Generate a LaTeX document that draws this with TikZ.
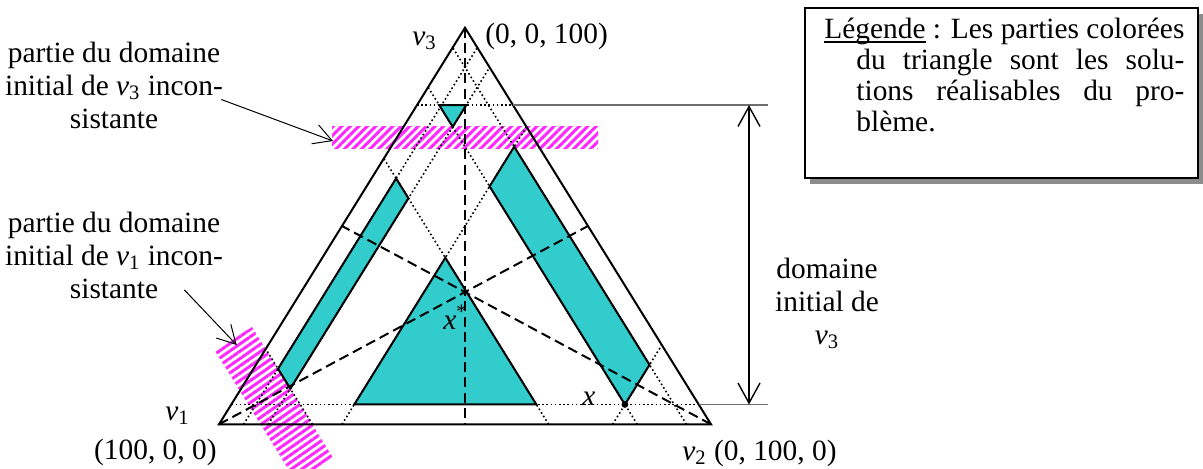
\documentclass[tikz,border=0pt]{standalone}
\usepackage{fontspec}
\setmainfont{Liberation Serif}
\usetikzlibrary{arrows.meta,patterns.meta,shadows}
\definecolor{solcyan}{RGB}{51,204,204}
\definecolor{hatchpink}{RGB}{255,40,255}
\definecolor{guidegray}{RGB}{110,110,110}
\definecolor{shadowgray}{RGB}{140,140,140}
\newcommand{\legul}[1]{\setbox0\hbox{#1}\rlap{\rule[-1.9pt]{\wd0}{0.6pt}}#1}
\tikzset{
  lbl/.style={font=\fontsize{14.7}{16.3}\selectfont,inner sep=0pt},
  tri/.style={line width=1pt,line join=miter},
  sol/.style={fill=solcyan,draw=black,line width=1pt,line join=miter},
  dom/.style={line width=0.8pt,dash pattern=on 0.8pt off 1.3pt},
  med/.style={line width=1pt,dash pattern=on 5pt off 2.6pt},
  hatch/.style={pattern={Lines[angle=#1,distance=3pt,line width=1.5pt]},
                pattern color=hatchpink},
  hatch/.default=45,
  guide/.style={draw=guidegray,line width=0.6pt},
  lblarr/.style={-{Straight Barb[length=9pt,width=10pt]},line width=0.5pt},
  dimarr/.style={{Straight Barb[length=10pt,width=11pt]}-{Straight Barb[length=10pt,width=11pt]},
                 line width=0.7pt},
  legendbox/.style={draw,line width=1pt,fill=white,
                    minimum width=196.5pt,minimum height=85pt,
                    drop shadow={shadow xshift=2.5pt,shadow yshift=-3pt,
                                 fill=shadowgray,opacity=1}},
}

\begin{document}
\begin{tikzpicture}[x=0.5pt,y=-0.5pt]
  \useasboundingbox (0,0) rectangle (1203,468);

  %% simplex corners (weights below are fractions of 100)
  \coordinate (v1) at (219,424.3);
  \coordinate (v2) at (711,424.3);
  \coordinate (v3) at (465,27.7);

  %% inconsistent parts (hatched)
  \fill[hatch] (332,126) rectangle (598,148);
  \begin{scope}
    \clip (0,0) rectangle (1203,468);
    \fill[hatch=35] (252,327) -- (214.6,350.2) -- (295.8,481.2) -- (333.2,458) -- cycle;
  \end{scope}

  %% domain bounds
  \foreach \c/\r in {.05/.95,.15/.85,.33/.67,.81/.19}
    \draw[dom] (barycentric cs:v1=\c,v2=\r) -- (barycentric cs:v1=\c,v3=\r);
  \foreach \c/\r in {.05/.95,.10/.90,.25/.75,.80/.20}
    \draw[dom] (barycentric cs:v2=\c,v1=\r) -- (barycentric cs:v2=\c,v3=\r);
  \foreach \c/\r in {.05/.95,.805/.195}
    \draw[dom] (barycentric cs:v3=\c,v1=\r) -- (barycentric cs:v3=\c,v2=\r);

  %% feasible solutions
  \draw[sol] (barycentric cs:v1=.15,v2=.045,v3=.805) -- (barycentric cs:v1=.095,v2=.10,v3=.805)
          -- (barycentric cs:v1=.15,v2=.10,v3=.75) -- cycle;
  \draw[sol] (barycentric cs:v1=.33,v2=.05,v3=.62) -- (barycentric cs:v1=.33,v2=.10,v3=.57)
          -- (barycentric cs:v1=.81,v2=.10,v3=.09) -- (barycentric cs:v1=.81,v2=.05,v3=.14) -- cycle;
  \draw[sol] (barycentric cs:v1=.05,v2=.25,v3=.70) -- (barycentric cs:v1=.15,v2=.25,v3=.60)
          -- (barycentric cs:v1=.15,v2=.80,v3=.05) -- (barycentric cs:v1=.05,v2=.80,v3=.15) -- cycle;
  \draw[sol] (barycentric cs:v1=.70,v2=.25,v3=.05) -- (barycentric cs:v1=.33,v2=.62,v3=.05)
          -- (barycentric cs:v1=.33,v2=.25,v3=.42) -- cycle;

  %% medians
  \draw[med] (v1) -- (barycentric cs:v2=.5,v3=.5);
  \draw[med] (v2) -- (barycentric cs:v1=.5,v3=.5);
  \draw[med] (v3) -- (barycentric cs:v1=.5,v2=.5);

  \draw[tri] (v1) -- (v2) -- (v3) -- cycle;

  %% initial domain of v3
  \coordinate (hiR) at (barycentric cs:v2=.195,v3=.805);
  \coordinate (loR) at (barycentric cs:v2=.95,v3=.05);
  \coordinate (dimx) at (749,0);
  \coordinate (guidex) at (768,0);
  \draw[guide] (hiR) -- (hiR -| guidex);
  \draw[guide] (loR) -- (loR -| guidex);
  \draw[dimarr] (hiR -| dimx) -- (loR -| dimx);

  \coordinate (xpt) at (barycentric cs:v1=.15,v2=.80,v3=.05);
  \fill (xpt) circle (1.7pt);

  %% labels
  \node[lbl,anchor=base east] (v3lbl) at (437,45) {\textit{v}\textsubscript{3}};
  \node[lbl,anchor=base west] (v3co) at (485,43) {(0, 0, 100)};
  \node[lbl,anchor=base east] (v1lbl) at (190,420) {\textit{v}\textsubscript{1}};
  \node[lbl,anchor=base east] (v1co) at (217,459) {(100, 0, 0)};
  \node[lbl,anchor=base west] (v2lbl) at (682,460) {\textit{v}\textsubscript{2} (0, 100, 0)};
  \node[lbl,anchor=base west] (xstar) at (443,329) {\textit{x}\textsuperscript{*}};
  \node[lbl,anchor=base west] (xlbl) at (582,405) {\textit{x}};

  \node[lbl,align=center] (lblv3) at (114,85.5)
    {partie du domaine\\initial de \textit{v}\textsubscript{3} incon-\\sistante};
  \node[lbl,align=center] (lblv1) at (114,255.5)
    {partie du domaine\\initial de \textit{v}\textsubscript{1} incon-\\sistante};
  \node[lbl,align=center] (lbldom) at (827,303.5)
    {domaine\\initial de\\\textit{v}\textsubscript{3}};

  \coordinate (hbandW) at (333,141);
  \coordinate (dbandN) at (236.7,345);
  \draw[lblarr] ([shift={(-2,14)}]lblv3.east) -- (hbandW);
  \draw[lblarr] ([shift={(-39,-9)}]lblv1.south east) -- (dbandN);

  %% legend
  \node[legendbox] (legend) at (1001.5,93) {};
  \node[lbl,font=\fontsize{14.7}{15.5}\selectfont,anchor=north west,align=left] (legtxt)
    at ([shift={(20,11)}]legend.north west)
    {\makebox[180pt][s]{\legul{Légende} : Les parties colorées}\\
     \hspace*{16pt}\makebox[164pt][s]{du triangle sont les solu-}\\
     \hspace*{16pt}\makebox[164pt][s]{tions réalisables du pro-}\\
     \hspace*{16pt}blème.};
\end{tikzpicture}
\end{document}
